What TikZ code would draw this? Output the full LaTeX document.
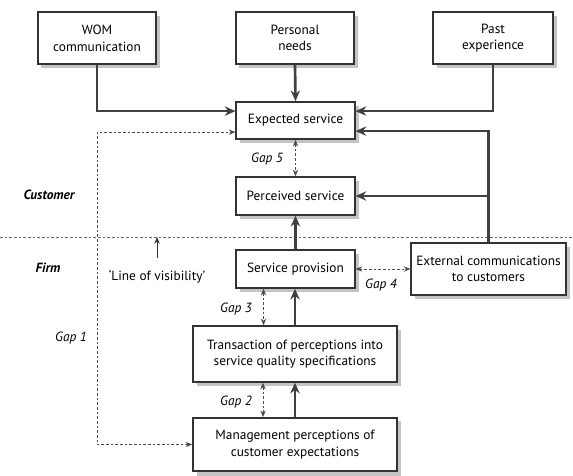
\documentclass[tikz,border=0pt]{standalone}
\usepackage{fontspec}
\setmainfont{PT Sans}
\usetikzlibrary{arrows.meta, positioning, calc}
\definecolor{shadowgray}{RGB}{196,196,196}

\begin{document}
\begin{tikzpicture}[
  x=0.75pt, y=-0.75pt,
  box/.style={draw=black!80, line width=1.1pt, fill=white, align=center, inner sep=2pt,
    font=\fontsize{10}{12.5}\selectfont},
  shade box/.style={fill=shadowgray},
  flow/.style={draw=black!75, line width=2pt, -{Stealth[length=8pt, width=7pt]}},
  gap/.style={draw=black!70, line width=0.6pt, dash pattern=on 2pt off 1.5pt,
    {Stealth[length=5pt, width=4pt]}-{Stealth[length=5pt, width=4pt]}},
  visline/.style={draw=black!60, line width=0.6pt, dash pattern=on 2pt off 1.5pt},
  gaplabel/.style={font=\fontsize{10}{12}\selectfont\itshape},
  side/.style={font=\fontsize{10}{12}\selectfont\bfseries\itshape}
]
\useasboundingbox (0,0) rectangle (573,475);

\fill[shade box] (41,16) rectangle (160,68);
\fill[shade box] (239,16) rectangle (358,68);
\fill[shade box] (437,16) rectangle (557,68);
\fill[shade box] (240,106) rectangle (359,143);
\fill[shade box] (240,181) rectangle (359,219);
\fill[shade box] (240,254) rectangle (359,292);
\fill[shade box] (415,247) rectangle (570,299);
\fill[shade box] (197,330) rectangle (401,386);
\fill[shade box] (197,421) rectangle (401,477);

\node[box, minimum width=88.5pt, minimum height=39pt] (wom) at (97,38) {WOM\\communication};
\node[box, minimum width=88.5pt, minimum height=39pt] (needs) at (295,38) {Personal\\needs};
\node[box, minimum width=90pt, minimum height=39pt] (past) at (493,38) {Past\\experience};
\node[box, minimum width=89pt, minimum height=28pt] (expected) at (295.5,120.5) {Expected service};
\node[box, minimum width=89pt, minimum height=28.5pt] (perceived) at (295.5,196) {Perceived service};
\node[box, minimum width=89pt, minimum height=28.5pt] (provision) at (295.5,269) {Service provision};
\node[box, minimum width=116pt, minimum height=39pt] (external) at (488.5,269) {External communications\\to customers};
\node[box, minimum width=153pt, minimum height=42pt] (transaction) at (295,354) {Transaction of perceptions into\\service quality specifications};
\node[box, minimum width=153pt, minimum height=40pt] (mgmt) at (295,444.5) {Management perceptions of\\customer expectations};

\coordinate (expL1) at ($(expected.north west)+(0,10)$);
\coordinate (expL2) at ($(expected.north west)+(0,31)$);
\coordinate (expR1) at ($(expected.north east)+(0,10)$);
\coordinate (expR2) at ($(expected.north east)+(0,30)$);
\coordinate (visL) at (0,237);
\coordinate (visR) at (573,237);
\coordinate (gapcorner) at (wom.south |- mgmt.west);

\draw[visline] (visL) -- (visR);

\draw[flow] (wom.south) |- (expL1);
\draw[flow] (needs.south) -- (expected.north);
\draw[flow] (past.south) |- (expR1);
\draw[flow] (external.north) |- (expR2);
\draw[flow] (external.north |- perceived.east) -- (perceived.east);
\draw[flow] (provision.north) -- (perceived.south);
\draw[flow] (transaction.north) -- (transaction.north |- provision.south);
\draw[flow] (mgmt.north) -- (transaction.south);

\draw[gap] (expected.south) -- (perceived.north);
\draw[gap] ([xshift=-24pt]provision.south) -- ([xshift=-24pt]provision.south |- transaction.north);
\draw[gap] ([xshift=-24pt]transaction.south) -- ([xshift=-24pt]transaction.south |- mgmt.north);
\draw[gap] (provision.east) -- (external.west);
\draw[gap] (mgmt.west) -- (gapcorner) |- (expL2);

\node[gaplabel] (gap5) at (267,159) {Gap 5};
\node[gaplabel] (gap3) at (236,309) {Gap 3};
\node[gaplabel] (gap2) at (236,402) {Gap 2};
\node[gaplabel] (gap1) at (71,338) {Gap 1};
\node[gaplabel] (gap4) at (381,285) {Gap 4};

\node[side] (customer) at (49,195) {Customer};
\node[side] (firm) at (48,268) {Firm};

\node[font=\fontsize{10}{12}\selectfont] (vislabel) at (157,277) {`Line of visibility'};
\draw[black!80, line width=0.7pt, -{Stealth[length=5pt, width=4pt]}] ([yshift=6pt]vislabel.north) -- (vislabel.north |- visL);
\end{tikzpicture}
\end{document}
